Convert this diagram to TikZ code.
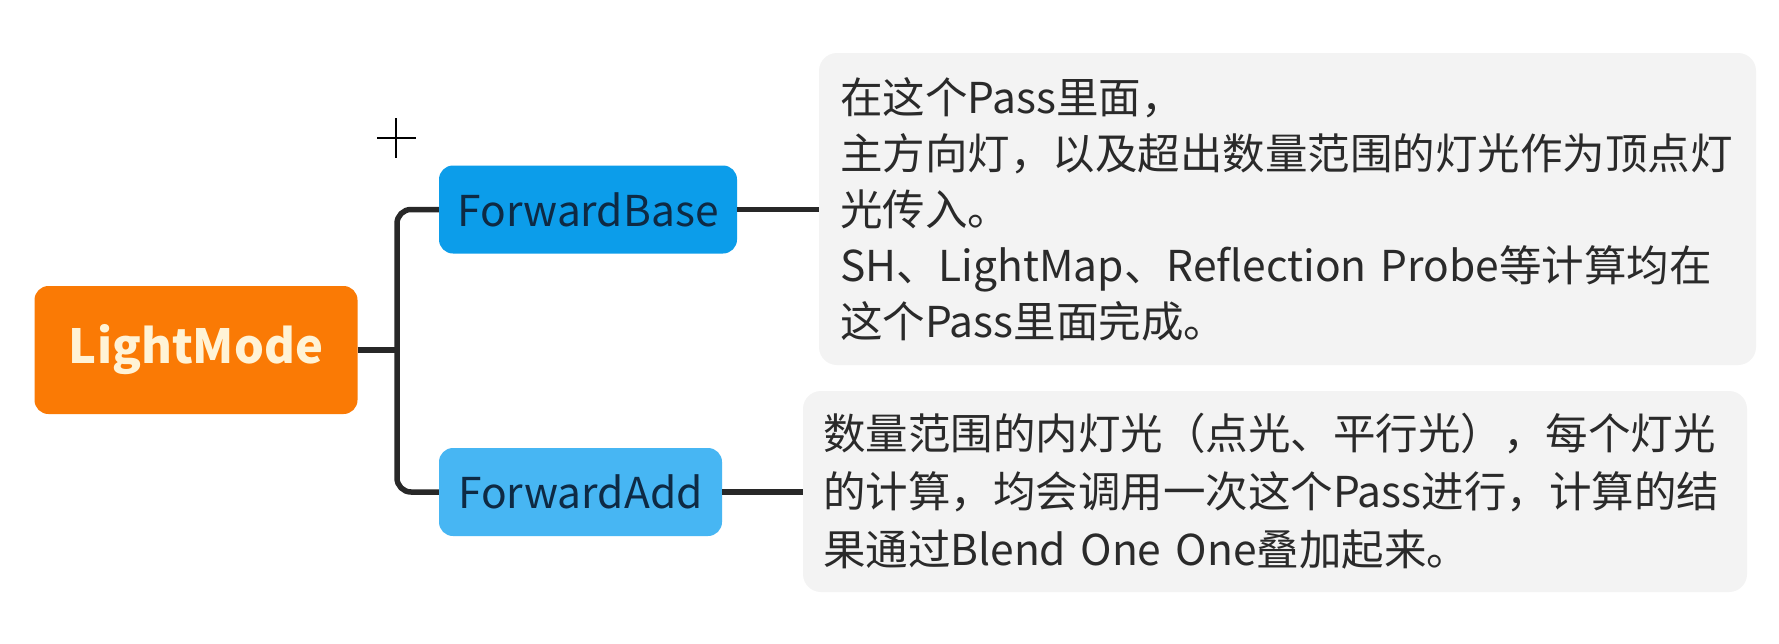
\documentclass[tikz,border=0pt]{standalone}
\usepackage{fontspec}
\setmainfont{Noto Sans CJK SC}
\newfontfamily\cjk{Noto Sans CJK SC}
\definecolor{lmorange}{HTML}{FA7A05}
\definecolor{lmtext}{HTML}{FFF3D6}
\definecolor{fbblue}{HTML}{0C9DEA}
\definecolor{fablue}{HTML}{47B6F3}
\definecolor{navy}{HTML}{0E2A44}
\definecolor{conncol}{HTML}{282828}
\definecolor{descfill}{HTML}{F3F3F3}
\definecolor{desctext}{HTML}{2A2A2A}
\tikzset{
  rootbox/.style={rectangle, rounded corners=14pt, fill=lmorange, text=lmtext,
    minimum width=323pt, minimum height=128pt, inner sep=0pt,
    font=\cjk\bfseries\fontsize{47}{54}\selectfont},
  subbox/.style={rectangle, rounded corners=14pt, text=navy,
    minimum height=88pt, inner sep=0pt,
    font=\cjk\fontsize{42.5}{50}\selectfont},
  descbox/.style={rectangle, rounded corners=18pt, fill=descfill, text=desctext,
    align=left, inner ysep=0pt},
  conn/.style={draw=conncol, line width=5.5pt, rounded corners=14pt},
}
\begin{document}
\begin{tikzpicture}[x=1pt,y=-1pt]
\useasboundingbox (0,0) rectangle (1779,643);
\fill[white] (0,0) rectangle (1779,643);
% cursor
\draw[black, line width=2.2pt] (377,138) -- (416,138);
\draw[black, line width=2.2pt] (396,118) -- (396,158);

\node[rootbox] (lm) at (196,350) {LightMode};
\node[subbox, fill=fbblue, minimum width=298pt] (fb) at (588,209.5) {ForwardBase};
\node[subbox, fill=fablue, minimum width=283pt] (fa) at (580.5,492) {ForwardAdd};

\coordinate (trunk) at (397,350);

\node[descbox, minimum height=312pt, text width=895pt, inner xsep=21pt,
      font=\cjk\fontsize{42.5}{56}\selectfont] (d1) at (1287.5,209)
  {在这个Pass里面，\\主方向灯，以及超出数量范围的灯光作为顶点灯\\光传入。\\SH、LightMap、Reflection Probe等计算均在\\这个Pass里面完成。};
\node[descbox, minimum height=201pt, text width=904pt, inner xsep=20pt,
      font=\cjk\fontsize{42.5}{58}\selectfont] (d2) at (1275,491.5)
  {数量范围的内灯光（点光、平行光），每个灯光\\的计算，均会调用一次这个Pass进行，计算的结\\果通过Blend One One叠加起来。};

\draw[conn] (lm.east) -- (trunk);
\draw[conn] (fb.west) -- (fb.west -| trunk) -- (fa.west -| trunk) -- (fa.west);
\draw[conn] (fb.east) -- (d1.west |- fb.east);
\draw[conn] (fa.east) -- (d2.west |- fa.east);
\end{tikzpicture}
\end{document}
